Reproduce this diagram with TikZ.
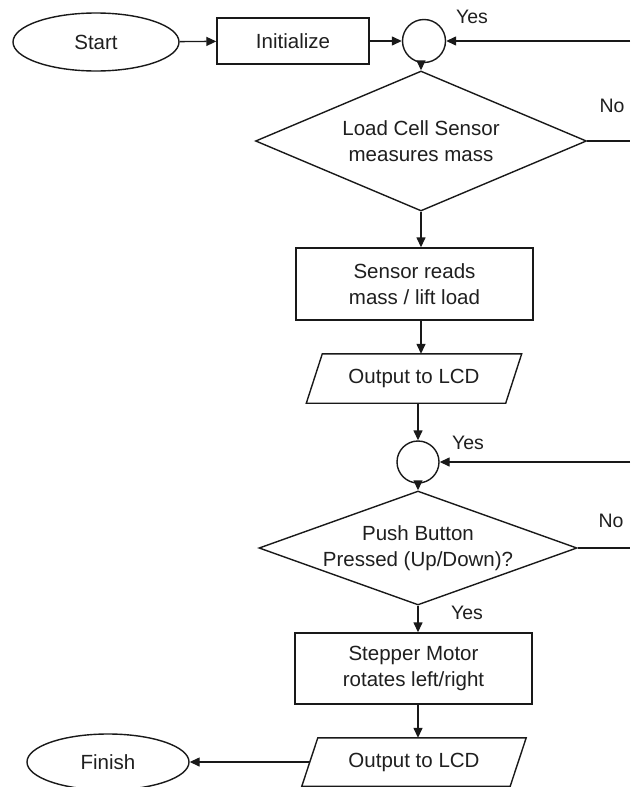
\documentclass[tikz,border=0pt]{standalone}
\usepackage{fontspec}
\setmainfont{Liberation Sans}
\usetikzlibrary{shapes.geometric,arrows.meta}
\begin{document}
\begin{tikzpicture}[x=1pt,y=-1pt,
  every node/.style={font=\fontsize{20.5}{26}\selectfont, text=black!88, inner sep=0pt},
  ln/.style={line width=1.4pt, draw=black!90},
  term/.style={ln, ellipse},
  proc/.style={ln, rectangle, align=center},
  io/.style={rectangle, align=center},
  junc/.style={ln, circle},
  dec/.style={ln, diamond},
  arr/.style={ln, -{Triangle[length=10pt,width=9pt]}},
  lbl/.style={font=\fontsize{19.5}{24}\selectfont}]
\useasboundingbox[fill=white] (0,0) rectangle (630,787);

% nodes
\node[term, minimum width=166pt, minimum height=58pt] (start) at (96,42) {Start};
\node[proc, minimum width=152pt, minimum height=46pt] (init) at (293,41) {Initialize};
\node[junc, minimum size=43pt] (c1) at (424,41) {};
\node[dec, minimum width=331pt, minimum height=140pt,
      label={[align=center]center:Load Cell Sensor\\measures mass}] (d1) at (421,141) {};
\node[proc, minimum width=237pt, minimum height=72pt] (s1) at (414.5,284) {Sensor reads\\mass / lift load};
\node[io, minimum width=199pt, minimum height=49pt] (o1) at (414,378.5) {Output to LCD};
\node[junc, minimum size=42pt] (c2) at (418,462) {};
\node[dec, minimum width=318pt, minimum height=114pt,
      label={[align=center]center:Push Button\\Pressed (Up/Down)?}] (d2) at (418,548) {};
\node[proc, minimum width=237pt, minimum height=71pt] (s2) at (413.5,668.5) {Stepper Motor\\rotates left/right};
\node[io, minimum width=208pt, minimum height=48pt] (o2) at (414,762) {Output to LCD};
\node[term, minimum width=162pt, minimum height=56pt] (fin) at (108,762) {Finish};

% parallelogram outlines
\draw[ln, line join=miter] ([xshift=8pt]o1.north west) -- ([xshift=8pt]o1.north east)
  -- ([xshift=-8pt]o1.south east) -- ([xshift=-8pt]o1.south west) -- cycle;
\draw[ln, line join=miter] ([xshift=8pt]o2.north west) -- ([xshift=8pt]o2.north east)
  -- ([xshift=-8pt]o2.south east) -- ([xshift=-8pt]o2.south west) -- cycle;

% labels
\node[lbl] (y1) at (472,17) {Yes};
\node[lbl] (n1) at (612,106) {No};
\node[lbl] (y2) at (468,443) {Yes};
\node[lbl] (n2) at (611,521) {No};
\node[lbl] (y3) at (467,613) {Yes};

% right edge coordinates
\coordinate (r1) at (630,41);
\coordinate (r3) at (630,462);

% connectors
\draw[arr] (start) -- (init);
\draw[arr] (init) -- (c1);
\draw[arr] (r1) -- (c1.east);
\draw[arr] (c1.south -| d1.north) -- (d1.north);
\draw[ln] (d1.east) -- (d1.east -| r1);
\draw[arr] (d1.south) -- (d1.south |- s1.north);
\draw[arr] (d1.south |- s1.south) -- (d1.south |- o1.north);
\draw[arr] (c2.north |- o1.south) -- (c2.north);
\draw[arr] (r3) -- (c2.east);
\draw[arr] (c2.south) -- (d2.north);
\draw[ln] (d2.east) -- (d2.east -| r3);
\draw[arr] (d2.south) -- (d2.south |- s2.north);
\draw[arr] (d2.south |- s2.south) -- (d2.south |- o2.north);
\draw[arr] (o2.west) -- (fin.east);
\end{tikzpicture}
\end{document}
